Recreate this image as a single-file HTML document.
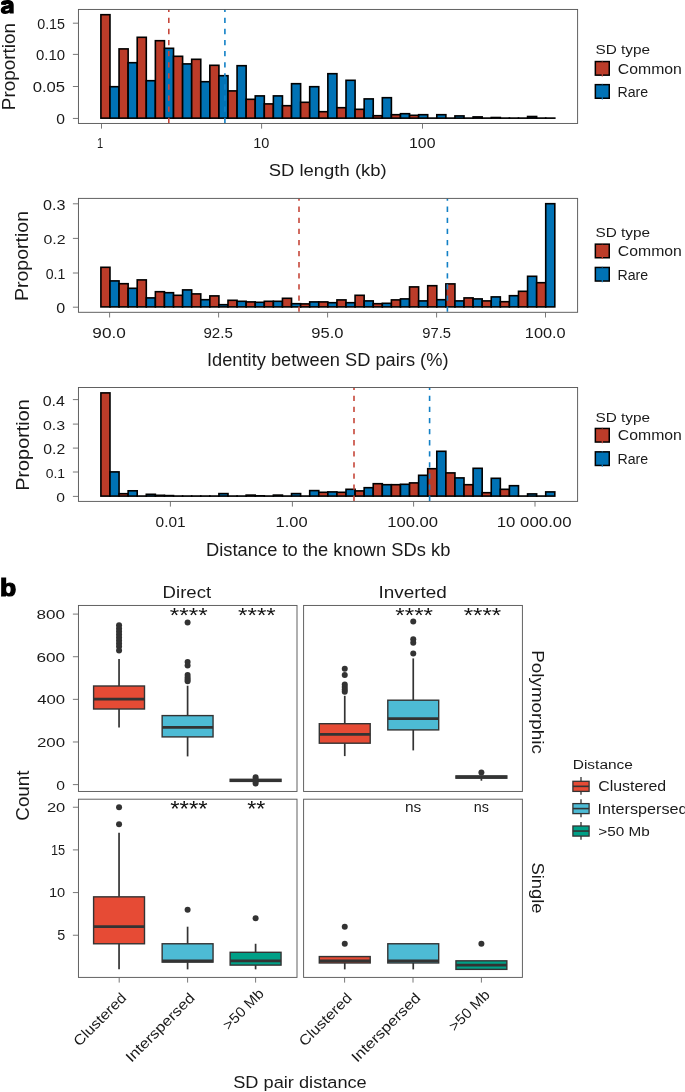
<!DOCTYPE html>
<html><head><meta charset="utf-8"><style>
html,body{margin:0;padding:0;background:#fff;width:685px;height:1092px;overflow:hidden}
svg{display:block;will-change:transform;font-family:"Liberation Sans",sans-serif;font-kerning:none}
text{font-kerning:none}
</style></head><body>
<svg width="685" height="1092" viewBox="0 0 685 1092">
<rect x="0" y="0" width="685" height="1092" fill="#fff"/>
<rect x="100.90" y="14.70" width="9.08" height="103.45" fill="#BC3C29" stroke="#000" stroke-width="1.6"/>
<rect x="109.98" y="86.70" width="9.08" height="31.45" fill="#0072B5" stroke="#000" stroke-width="1.6"/>
<rect x="119.06" y="48.90" width="9.08" height="69.25" fill="#BC3C29" stroke="#000" stroke-width="1.6"/>
<rect x="128.13" y="62.70" width="9.08" height="55.45" fill="#0072B5" stroke="#000" stroke-width="1.6"/>
<rect x="137.21" y="37.30" width="9.08" height="80.85" fill="#BC3C29" stroke="#000" stroke-width="1.6"/>
<rect x="146.29" y="80.70" width="9.08" height="37.45" fill="#0072B5" stroke="#000" stroke-width="1.6"/>
<rect x="155.37" y="40.70" width="9.08" height="77.45" fill="#BC3C29" stroke="#000" stroke-width="1.6"/>
<rect x="164.45" y="48.30" width="9.08" height="69.85" fill="#0072B5" stroke="#000" stroke-width="1.6"/>
<rect x="173.52" y="56.30" width="9.08" height="61.85" fill="#BC3C29" stroke="#000" stroke-width="1.6"/>
<rect x="182.60" y="63.90" width="9.08" height="54.25" fill="#0072B5" stroke="#000" stroke-width="1.6"/>
<rect x="191.68" y="59.30" width="9.08" height="58.85" fill="#BC3C29" stroke="#000" stroke-width="1.6"/>
<rect x="200.76" y="81.70" width="9.08" height="36.45" fill="#0072B5" stroke="#000" stroke-width="1.6"/>
<rect x="209.84" y="65.30" width="9.08" height="52.85" fill="#BC3C29" stroke="#000" stroke-width="1.6"/>
<rect x="218.91" y="75.70" width="9.08" height="42.45" fill="#0072B5" stroke="#000" stroke-width="1.6"/>
<rect x="227.99" y="90.90" width="9.08" height="27.25" fill="#BC3C29" stroke="#000" stroke-width="1.6"/>
<rect x="237.07" y="65.70" width="9.08" height="52.45" fill="#0072B5" stroke="#000" stroke-width="1.6"/>
<rect x="246.15" y="99.30" width="9.08" height="18.85" fill="#BC3C29" stroke="#000" stroke-width="1.6"/>
<rect x="255.23" y="95.90" width="9.08" height="22.25" fill="#0072B5" stroke="#000" stroke-width="1.6"/>
<rect x="264.30" y="103.90" width="9.08" height="14.25" fill="#BC3C29" stroke="#000" stroke-width="1.6"/>
<rect x="273.38" y="95.90" width="9.08" height="22.25" fill="#0072B5" stroke="#000" stroke-width="1.6"/>
<rect x="282.46" y="105.70" width="9.08" height="12.45" fill="#BC3C29" stroke="#000" stroke-width="1.6"/>
<rect x="291.54" y="83.70" width="9.08" height="34.45" fill="#0072B5" stroke="#000" stroke-width="1.6"/>
<rect x="300.62" y="102.30" width="9.08" height="15.85" fill="#BC3C29" stroke="#000" stroke-width="1.6"/>
<rect x="309.69" y="86.70" width="9.08" height="31.45" fill="#0072B5" stroke="#000" stroke-width="1.6"/>
<rect x="318.77" y="111.70" width="9.08" height="6.45" fill="#BC3C29" stroke="#000" stroke-width="1.6"/>
<rect x="327.85" y="73.70" width="9.08" height="44.45" fill="#0072B5" stroke="#000" stroke-width="1.6"/>
<rect x="336.93" y="107.70" width="9.08" height="10.45" fill="#BC3C29" stroke="#000" stroke-width="1.6"/>
<rect x="346.01" y="80.30" width="9.08" height="37.85" fill="#0072B5" stroke="#000" stroke-width="1.6"/>
<rect x="355.08" y="109.30" width="9.08" height="8.85" fill="#BC3C29" stroke="#000" stroke-width="1.6"/>
<rect x="364.16" y="98.90" width="9.08" height="19.25" fill="#0072B5" stroke="#000" stroke-width="1.6"/>
<rect x="373.24" y="115.70" width="9.08" height="2.45" fill="#BC3C29" stroke="#000" stroke-width="1.6"/>
<rect x="382.32" y="97.70" width="9.08" height="20.45" fill="#0072B5" stroke="#000" stroke-width="1.6"/>
<rect x="391.40" y="114.70" width="9.08" height="3.45" fill="#BC3C29" stroke="#000" stroke-width="1.6"/>
<rect x="400.47" y="113.70" width="9.08" height="4.45" fill="#0072B5" stroke="#000" stroke-width="1.6"/>
<rect x="409.55" y="115.30" width="9.08" height="2.85" fill="#BC3C29" stroke="#000" stroke-width="1.6"/>
<rect x="418.63" y="114.70" width="9.08" height="3.45" fill="#0072B5" stroke="#000" stroke-width="1.6"/>
<rect x="427.71" y="118.10" width="9.08" height="0.05" fill="#BC3C29" stroke="#000" stroke-width="1.6"/>
<rect x="436.79" y="114.70" width="9.08" height="3.45" fill="#0072B5" stroke="#000" stroke-width="1.6"/>
<rect x="445.86" y="118.10" width="9.08" height="0.05" fill="#BC3C29" stroke="#000" stroke-width="1.6"/>
<rect x="454.94" y="115.90" width="9.08" height="2.25" fill="#0072B5" stroke="#000" stroke-width="1.6"/>
<rect x="464.02" y="118.10" width="9.08" height="0.05" fill="#BC3C29" stroke="#000" stroke-width="1.6"/>
<rect x="473.10" y="116.90" width="9.08" height="1.25" fill="#0072B5" stroke="#000" stroke-width="1.6"/>
<rect x="482.18" y="118.10" width="9.08" height="0.05" fill="#BC3C29" stroke="#000" stroke-width="1.6"/>
<rect x="491.25" y="117.50" width="9.08" height="0.65" fill="#0072B5" stroke="#000" stroke-width="1.6"/>
<rect x="500.33" y="118.10" width="9.08" height="0.05" fill="#BC3C29" stroke="#000" stroke-width="1.6"/>
<rect x="509.41" y="118.10" width="9.08" height="0.05" fill="#0072B5" stroke="#000" stroke-width="1.6"/>
<rect x="518.49" y="118.10" width="9.08" height="0.05" fill="#BC3C29" stroke="#000" stroke-width="1.6"/>
<rect x="527.57" y="116.50" width="9.08" height="1.65" fill="#0072B5" stroke="#000" stroke-width="1.6"/>
<rect x="536.64" y="118.10" width="9.08" height="0.05" fill="#BC3C29" stroke="#000" stroke-width="1.6"/>
<rect x="545.72" y="118.10" width="9.08" height="0.05" fill="#0072B5" stroke="#000" stroke-width="1.6"/>
<line x1="168.80" y1="123.45" x2="168.80" y2="9.45" stroke="#C6473A" stroke-width="1.6" stroke-dasharray="5.3 5.8" stroke-dashoffset="-0.5"/>
<line x1="224.90" y1="123.45" x2="224.90" y2="9.45" stroke="#1280C6" stroke-width="1.6" stroke-dasharray="5.3 5.8" stroke-dashoffset="-0.5"/>
<rect x="78.45" y="9.45" width="499.15" height="114.00" fill="none" stroke="#5a5a5a" stroke-width="0.95"/>
<line x1="72.90" y1="23.20" x2="78.45" y2="23.20" stroke="#6a6a6a" stroke-width="0.9"/>
<text x="37.19" y="28.70" font-size="14.25" textLength="27.86" lengthAdjust="spacingAndGlyphs" fill="#1a1a1a">0.15</text>
<line x1="72.90" y1="54.40" x2="78.45" y2="54.40" stroke="#6a6a6a" stroke-width="0.9"/>
<text x="35.97" y="60.20" font-size="14.25" textLength="29.07" lengthAdjust="spacingAndGlyphs" fill="#1a1a1a">0.10</text>
<line x1="72.90" y1="86.50" x2="78.45" y2="86.50" stroke="#6a6a6a" stroke-width="0.9"/>
<text x="32.70" y="91.80" font-size="14.25" textLength="32.45" lengthAdjust="spacingAndGlyphs" fill="#1a1a1a">0.05</text>
<line x1="72.90" y1="118.45" x2="78.45" y2="118.45" stroke="#6a6a6a" stroke-width="0.9"/>
<text x="56.34" y="123.90" font-size="14.11" textLength="8.73" lengthAdjust="spacingAndGlyphs" fill="#1a1a1a">0</text>
<line x1="101.50" y1="123.45" x2="101.50" y2="128.65" stroke="#6a6a6a" stroke-width="0.9"/>
<text x="97.10" y="148.00" font-size="14.32" textLength="6.19" lengthAdjust="spacingAndGlyphs" fill="#1a1a1a">1</text>
<line x1="261.60" y1="123.45" x2="261.60" y2="128.65" stroke="#6a6a6a" stroke-width="0.9"/>
<text x="253.30" y="147.80" font-size="14.11" textLength="16.12" lengthAdjust="spacingAndGlyphs" fill="#1a1a1a">10</text>
<line x1="422.50" y1="123.45" x2="422.50" y2="128.65" stroke="#6a6a6a" stroke-width="0.9"/>
<text x="409.04" y="148.00" font-size="14.11" textLength="26.43" lengthAdjust="spacingAndGlyphs" fill="#1a1a1a">100</text>
<text x="268.71" y="176.00" font-size="16.22" textLength="117.98" lengthAdjust="spacingAndGlyphs" fill="#1a1a1a">SD length (kb)</text>
<text transform="translate(15.00,66.50) rotate(-90)" x="-0.16" y="0.00" font-size="17.95" textLength="87.07" lengthAdjust="spacingAndGlyphs" text-anchor="middle" fill="#1a1a1a">Proportion</text>
<text x="595.45" y="54.20" font-size="13.25" textLength="54.58" lengthAdjust="spacingAndGlyphs" fill="#1a1a1a">SD type</text>
<rect x="595.35" y="61.55" width="13.9" height="13.6" fill="#BC3C29" stroke="#000" stroke-width="1.5"/>
<line x1="602.30" y1="74.10" x2="602.30" y2="76.40" stroke="#C6473A" stroke-width="1.2"/>
<line x1="602.30" y1="60.70" x2="602.30" y2="62.00" stroke="#C6473A" stroke-width="1.2" stroke-opacity="0.5"/>
<rect x="595.35" y="84.65" width="13.9" height="13.6" fill="#0072B5" stroke="#000" stroke-width="1.5"/>
<line x1="602.30" y1="97.20" x2="602.30" y2="99.50" stroke="#1280C6" stroke-width="1.2"/>
<line x1="602.30" y1="83.80" x2="602.30" y2="85.10" stroke="#1280C6" stroke-width="1.2" stroke-opacity="0.5"/>
<text x="617.85" y="73.70" font-size="13.82" textLength="64.03" lengthAdjust="spacingAndGlyphs" fill="#1a1a1a">Common</text>
<text x="617.49" y="97.40" font-size="14.03" textLength="30.69" lengthAdjust="spacingAndGlyphs" fill="#1a1a1a">Rare</text>
<rect x="100.90" y="267.30" width="9.08" height="39.60" fill="#BC3C29" stroke="#000" stroke-width="1.6"/>
<rect x="109.98" y="280.90" width="9.08" height="26.00" fill="#0072B5" stroke="#000" stroke-width="1.6"/>
<rect x="119.06" y="283.70" width="9.08" height="23.20" fill="#BC3C29" stroke="#000" stroke-width="1.6"/>
<rect x="128.13" y="288.30" width="9.08" height="18.60" fill="#0072B5" stroke="#000" stroke-width="1.6"/>
<rect x="137.21" y="279.90" width="9.08" height="27.00" fill="#BC3C29" stroke="#000" stroke-width="1.6"/>
<rect x="146.29" y="297.90" width="9.08" height="9.00" fill="#0072B5" stroke="#000" stroke-width="1.6"/>
<rect x="155.37" y="291.70" width="9.08" height="15.20" fill="#BC3C29" stroke="#000" stroke-width="1.6"/>
<rect x="164.45" y="292.70" width="9.08" height="14.20" fill="#0072B5" stroke="#000" stroke-width="1.6"/>
<rect x="173.52" y="295.30" width="9.08" height="11.60" fill="#BC3C29" stroke="#000" stroke-width="1.6"/>
<rect x="182.60" y="289.90" width="9.08" height="17.00" fill="#0072B5" stroke="#000" stroke-width="1.6"/>
<rect x="191.68" y="293.90" width="9.08" height="13.00" fill="#BC3C29" stroke="#000" stroke-width="1.6"/>
<rect x="200.76" y="299.70" width="9.08" height="7.20" fill="#0072B5" stroke="#000" stroke-width="1.6"/>
<rect x="209.84" y="295.90" width="9.08" height="11.00" fill="#BC3C29" stroke="#000" stroke-width="1.6"/>
<rect x="218.91" y="304.70" width="9.08" height="2.20" fill="#0072B5" stroke="#000" stroke-width="1.6"/>
<rect x="227.99" y="300.30" width="9.08" height="6.60" fill="#BC3C29" stroke="#000" stroke-width="1.6"/>
<rect x="237.07" y="301.30" width="9.08" height="5.60" fill="#0072B5" stroke="#000" stroke-width="1.6"/>
<rect x="246.15" y="301.90" width="9.08" height="5.00" fill="#BC3C29" stroke="#000" stroke-width="1.6"/>
<rect x="255.23" y="302.30" width="9.08" height="4.60" fill="#0072B5" stroke="#000" stroke-width="1.6"/>
<rect x="264.30" y="301.30" width="9.08" height="5.60" fill="#BC3C29" stroke="#000" stroke-width="1.6"/>
<rect x="273.38" y="301.30" width="9.08" height="5.60" fill="#0072B5" stroke="#000" stroke-width="1.6"/>
<rect x="282.46" y="298.30" width="9.08" height="8.60" fill="#BC3C29" stroke="#000" stroke-width="1.6"/>
<rect x="291.54" y="303.70" width="9.08" height="3.20" fill="#0072B5" stroke="#000" stroke-width="1.6"/>
<rect x="300.62" y="303.90" width="9.08" height="3.00" fill="#BC3C29" stroke="#000" stroke-width="1.6"/>
<rect x="309.69" y="301.90" width="9.08" height="5.00" fill="#0072B5" stroke="#000" stroke-width="1.6"/>
<rect x="318.77" y="301.90" width="9.08" height="5.00" fill="#BC3C29" stroke="#000" stroke-width="1.6"/>
<rect x="327.85" y="302.70" width="9.08" height="4.20" fill="#0072B5" stroke="#000" stroke-width="1.6"/>
<rect x="336.93" y="299.90" width="9.08" height="7.00" fill="#BC3C29" stroke="#000" stroke-width="1.6"/>
<rect x="346.01" y="302.70" width="9.08" height="4.20" fill="#0072B5" stroke="#000" stroke-width="1.6"/>
<rect x="355.08" y="295.30" width="9.08" height="11.60" fill="#BC3C29" stroke="#000" stroke-width="1.6"/>
<rect x="364.16" y="300.90" width="9.08" height="6.00" fill="#0072B5" stroke="#000" stroke-width="1.6"/>
<rect x="373.24" y="303.70" width="9.08" height="3.20" fill="#BC3C29" stroke="#000" stroke-width="1.6"/>
<rect x="382.32" y="303.30" width="9.08" height="3.60" fill="#0072B5" stroke="#000" stroke-width="1.6"/>
<rect x="391.40" y="299.90" width="9.08" height="7.00" fill="#BC3C29" stroke="#000" stroke-width="1.6"/>
<rect x="400.47" y="298.90" width="9.08" height="8.00" fill="#0072B5" stroke="#000" stroke-width="1.6"/>
<rect x="409.55" y="286.90" width="9.08" height="20.00" fill="#BC3C29" stroke="#000" stroke-width="1.6"/>
<rect x="418.63" y="300.90" width="9.08" height="6.00" fill="#0072B5" stroke="#000" stroke-width="1.6"/>
<rect x="427.71" y="285.70" width="9.08" height="21.20" fill="#BC3C29" stroke="#000" stroke-width="1.6"/>
<rect x="436.79" y="299.70" width="9.08" height="7.20" fill="#0072B5" stroke="#000" stroke-width="1.6"/>
<rect x="445.86" y="283.90" width="9.08" height="23.00" fill="#BC3C29" stroke="#000" stroke-width="1.6"/>
<rect x="454.94" y="300.90" width="9.08" height="6.00" fill="#0072B5" stroke="#000" stroke-width="1.6"/>
<rect x="464.02" y="297.90" width="9.08" height="9.00" fill="#BC3C29" stroke="#000" stroke-width="1.6"/>
<rect x="473.10" y="298.90" width="9.08" height="8.00" fill="#0072B5" stroke="#000" stroke-width="1.6"/>
<rect x="482.18" y="300.90" width="9.08" height="6.00" fill="#BC3C29" stroke="#000" stroke-width="1.6"/>
<rect x="491.25" y="296.90" width="9.08" height="10.00" fill="#0072B5" stroke="#000" stroke-width="1.6"/>
<rect x="500.33" y="301.70" width="9.08" height="5.20" fill="#BC3C29" stroke="#000" stroke-width="1.6"/>
<rect x="509.41" y="295.70" width="9.08" height="11.20" fill="#0072B5" stroke="#000" stroke-width="1.6"/>
<rect x="518.49" y="291.30" width="9.08" height="15.60" fill="#BC3C29" stroke="#000" stroke-width="1.6"/>
<rect x="527.57" y="276.30" width="9.08" height="30.60" fill="#0072B5" stroke="#000" stroke-width="1.6"/>
<rect x="536.64" y="282.70" width="9.08" height="24.20" fill="#BC3C29" stroke="#000" stroke-width="1.6"/>
<rect x="545.72" y="203.70" width="9.08" height="103.20" fill="#0072B5" stroke="#000" stroke-width="1.6"/>
<line x1="299.00" y1="312.30" x2="299.00" y2="198.40" stroke="#C6473A" stroke-width="1.6" stroke-dasharray="5.3 5.8" stroke-dashoffset="-0.5"/>
<line x1="447.40" y1="312.30" x2="447.40" y2="198.40" stroke="#1280C6" stroke-width="1.6" stroke-dasharray="5.3 5.8" stroke-dashoffset="-0.5"/>
<rect x="78.45" y="198.40" width="499.15" height="113.90" fill="none" stroke="#5a5a5a" stroke-width="0.95"/>
<line x1="72.90" y1="203.80" x2="78.45" y2="203.80" stroke="#6a6a6a" stroke-width="0.9"/>
<text x="43.12" y="210.00" font-size="14.25" textLength="22.44" lengthAdjust="spacingAndGlyphs" fill="#1a1a1a">0.3</text>
<line x1="72.90" y1="238.40" x2="78.45" y2="238.40" stroke="#6a6a6a" stroke-width="0.9"/>
<text x="43.53" y="244.00" font-size="13.68" textLength="22.12" lengthAdjust="spacingAndGlyphs" fill="#1a1a1a">0.2</text>
<line x1="72.90" y1="273.00" x2="78.45" y2="273.00" stroke="#6a6a6a" stroke-width="0.9"/>
<text x="45.70" y="278.90" font-size="14.25" textLength="19.64" lengthAdjust="spacingAndGlyphs" fill="#1a1a1a">0.1</text>
<line x1="72.90" y1="307.20" x2="78.45" y2="307.20" stroke="#6a6a6a" stroke-width="0.9"/>
<text x="56.32" y="312.70" font-size="14.25" textLength="8.96" lengthAdjust="spacingAndGlyphs" fill="#1a1a1a">0</text>
<line x1="109.60" y1="312.30" x2="109.60" y2="317.50" stroke="#6a6a6a" stroke-width="0.9"/>
<text x="92.34" y="337.50" font-size="14.11" textLength="33.48" lengthAdjust="spacingAndGlyphs" fill="#1a1a1a">90.0</text>
<line x1="218.60" y1="312.30" x2="218.60" y2="317.50" stroke="#6a6a6a" stroke-width="0.9"/>
<text x="203.44" y="337.50" font-size="14.11" textLength="29.34" lengthAdjust="spacingAndGlyphs" fill="#1a1a1a">92.5</text>
<line x1="327.60" y1="312.30" x2="327.60" y2="317.50" stroke="#6a6a6a" stroke-width="0.9"/>
<text x="311.27" y="337.50" font-size="14.11" textLength="32.22" lengthAdjust="spacingAndGlyphs" fill="#1a1a1a">95.0</text>
<line x1="436.60" y1="312.30" x2="436.60" y2="317.50" stroke="#6a6a6a" stroke-width="0.9"/>
<text x="422.26" y="337.50" font-size="14.11" textLength="28.71" lengthAdjust="spacingAndGlyphs" fill="#1a1a1a">97.5</text>
<line x1="545.50" y1="312.30" x2="545.50" y2="317.50" stroke="#6a6a6a" stroke-width="0.9"/>
<text x="524.81" y="337.50" font-size="14.11" textLength="40.88" lengthAdjust="spacingAndGlyphs" fill="#1a1a1a">100.0</text>
<text x="206.97" y="366.00" font-size="18.56" textLength="241.52" lengthAdjust="spacingAndGlyphs" fill="#1a1a1a">Identity between SD pairs (%)</text>
<text transform="translate(28.40,255.85) rotate(-90)" x="-0.17" y="0.00" font-size="18.82" textLength="90.07" lengthAdjust="spacingAndGlyphs" text-anchor="middle" fill="#1a1a1a">Proportion</text>
<text x="595.45" y="237.30" font-size="13.39" textLength="54.58" lengthAdjust="spacingAndGlyphs" fill="#1a1a1a">SD type</text>
<rect x="595.35" y="244.15" width="13.9" height="13.6" fill="#BC3C29" stroke="#000" stroke-width="1.5"/>
<line x1="602.30" y1="256.70" x2="602.30" y2="259.00" stroke="#C6473A" stroke-width="1.2"/>
<line x1="602.30" y1="243.30" x2="602.30" y2="244.60" stroke="#C6473A" stroke-width="1.2" stroke-opacity="0.5"/>
<rect x="595.35" y="267.45" width="13.9" height="13.6" fill="#0072B5" stroke="#000" stroke-width="1.5"/>
<line x1="602.30" y1="280.00" x2="602.30" y2="282.30" stroke="#1280C6" stroke-width="1.2"/>
<line x1="602.30" y1="266.60" x2="602.30" y2="267.90" stroke="#1280C6" stroke-width="1.2" stroke-opacity="0.5"/>
<text x="617.85" y="256.30" font-size="13.82" textLength="64.03" lengthAdjust="spacingAndGlyphs" fill="#1a1a1a">Common</text>
<text x="617.49" y="280.20" font-size="14.03" textLength="30.69" lengthAdjust="spacingAndGlyphs" fill="#1a1a1a">Rare</text>
<rect x="100.90" y="392.90" width="9.08" height="103.20" fill="#BC3C29" stroke="#000" stroke-width="1.6"/>
<rect x="109.98" y="471.90" width="9.08" height="24.20" fill="#0072B5" stroke="#000" stroke-width="1.6"/>
<rect x="119.06" y="493.70" width="9.08" height="2.40" fill="#BC3C29" stroke="#000" stroke-width="1.6"/>
<rect x="128.13" y="490.80" width="9.08" height="5.30" fill="#0072B5" stroke="#000" stroke-width="1.6"/>
<rect x="137.21" y="496.05" width="9.08" height="0.05" fill="#BC3C29" stroke="#000" stroke-width="1.6"/>
<rect x="146.29" y="494.30" width="9.08" height="1.80" fill="#0072B5" stroke="#000" stroke-width="1.6"/>
<rect x="155.37" y="495.30" width="9.08" height="0.80" fill="#BC3C29" stroke="#000" stroke-width="1.6"/>
<rect x="164.45" y="495.60" width="9.08" height="0.50" fill="#0072B5" stroke="#000" stroke-width="1.6"/>
<rect x="173.52" y="496.05" width="9.08" height="0.05" fill="#BC3C29" stroke="#000" stroke-width="1.6"/>
<rect x="182.60" y="496.05" width="9.08" height="0.05" fill="#0072B5" stroke="#000" stroke-width="1.6"/>
<rect x="191.68" y="496.05" width="9.08" height="0.05" fill="#BC3C29" stroke="#000" stroke-width="1.6"/>
<rect x="200.76" y="496.05" width="9.08" height="0.05" fill="#0072B5" stroke="#000" stroke-width="1.6"/>
<rect x="209.84" y="496.05" width="9.08" height="0.05" fill="#BC3C29" stroke="#000" stroke-width="1.6"/>
<rect x="218.91" y="493.60" width="9.08" height="2.50" fill="#0072B5" stroke="#000" stroke-width="1.6"/>
<rect x="227.99" y="496.05" width="9.08" height="0.05" fill="#BC3C29" stroke="#000" stroke-width="1.6"/>
<rect x="237.07" y="496.05" width="9.08" height="0.05" fill="#0072B5" stroke="#000" stroke-width="1.6"/>
<rect x="246.15" y="495.10" width="9.08" height="1.00" fill="#BC3C29" stroke="#000" stroke-width="1.6"/>
<rect x="255.23" y="495.80" width="9.08" height="0.30" fill="#0072B5" stroke="#000" stroke-width="1.6"/>
<rect x="264.30" y="496.05" width="9.08" height="0.05" fill="#BC3C29" stroke="#000" stroke-width="1.6"/>
<rect x="273.38" y="495.10" width="9.08" height="1.00" fill="#0072B5" stroke="#000" stroke-width="1.6"/>
<rect x="282.46" y="496.05" width="9.08" height="0.05" fill="#BC3C29" stroke="#000" stroke-width="1.6"/>
<rect x="291.54" y="493.60" width="9.08" height="2.50" fill="#0072B5" stroke="#000" stroke-width="1.6"/>
<rect x="300.62" y="496.05" width="9.08" height="0.05" fill="#BC3C29" stroke="#000" stroke-width="1.6"/>
<rect x="309.69" y="490.60" width="9.08" height="5.50" fill="#0072B5" stroke="#000" stroke-width="1.6"/>
<rect x="318.77" y="492.30" width="9.08" height="3.80" fill="#BC3C29" stroke="#000" stroke-width="1.6"/>
<rect x="327.85" y="491.90" width="9.08" height="4.20" fill="#0072B5" stroke="#000" stroke-width="1.6"/>
<rect x="336.93" y="492.30" width="9.08" height="3.80" fill="#BC3C29" stroke="#000" stroke-width="1.6"/>
<rect x="346.01" y="489.30" width="9.08" height="6.80" fill="#0072B5" stroke="#000" stroke-width="1.6"/>
<rect x="355.08" y="490.90" width="9.08" height="5.20" fill="#BC3C29" stroke="#000" stroke-width="1.6"/>
<rect x="364.16" y="487.70" width="9.08" height="8.40" fill="#0072B5" stroke="#000" stroke-width="1.6"/>
<rect x="373.24" y="483.70" width="9.08" height="12.40" fill="#BC3C29" stroke="#000" stroke-width="1.6"/>
<rect x="382.32" y="484.70" width="9.08" height="11.40" fill="#0072B5" stroke="#000" stroke-width="1.6"/>
<rect x="391.40" y="484.70" width="9.08" height="11.40" fill="#BC3C29" stroke="#000" stroke-width="1.6"/>
<rect x="400.47" y="484.30" width="9.08" height="11.80" fill="#0072B5" stroke="#000" stroke-width="1.6"/>
<rect x="409.55" y="482.90" width="9.08" height="13.20" fill="#BC3C29" stroke="#000" stroke-width="1.6"/>
<rect x="418.63" y="475.30" width="9.08" height="20.80" fill="#0072B5" stroke="#000" stroke-width="1.6"/>
<rect x="427.71" y="468.70" width="9.08" height="27.40" fill="#BC3C29" stroke="#000" stroke-width="1.6"/>
<rect x="436.79" y="451.30" width="9.08" height="44.80" fill="#0072B5" stroke="#000" stroke-width="1.6"/>
<rect x="445.86" y="472.90" width="9.08" height="23.20" fill="#BC3C29" stroke="#000" stroke-width="1.6"/>
<rect x="454.94" y="477.90" width="9.08" height="18.20" fill="#0072B5" stroke="#000" stroke-width="1.6"/>
<rect x="464.02" y="484.70" width="9.08" height="11.40" fill="#BC3C29" stroke="#000" stroke-width="1.6"/>
<rect x="473.10" y="468.30" width="9.08" height="27.80" fill="#0072B5" stroke="#000" stroke-width="1.6"/>
<rect x="482.18" y="492.70" width="9.08" height="3.40" fill="#BC3C29" stroke="#000" stroke-width="1.6"/>
<rect x="491.25" y="478.30" width="9.08" height="17.80" fill="#0072B5" stroke="#000" stroke-width="1.6"/>
<rect x="500.33" y="489.30" width="9.08" height="6.80" fill="#BC3C29" stroke="#000" stroke-width="1.6"/>
<rect x="509.41" y="485.70" width="9.08" height="10.40" fill="#0072B5" stroke="#000" stroke-width="1.6"/>
<rect x="518.49" y="496.05" width="9.08" height="0.05" fill="#BC3C29" stroke="#000" stroke-width="1.6"/>
<rect x="527.57" y="493.90" width="9.08" height="2.20" fill="#0072B5" stroke="#000" stroke-width="1.6"/>
<rect x="536.64" y="496.05" width="9.08" height="0.05" fill="#BC3C29" stroke="#000" stroke-width="1.6"/>
<rect x="545.72" y="491.90" width="9.08" height="4.20" fill="#0072B5" stroke="#000" stroke-width="1.6"/>
<line x1="354.00" y1="501.40" x2="354.00" y2="387.50" stroke="#C6473A" stroke-width="1.6" stroke-dasharray="5.3 5.8" stroke-dashoffset="-0.5"/>
<line x1="429.60" y1="501.40" x2="429.60" y2="387.50" stroke="#1280C6" stroke-width="1.6" stroke-dasharray="5.3 5.8" stroke-dashoffset="-0.5"/>
<rect x="78.45" y="387.50" width="499.15" height="113.90" fill="none" stroke="#5a5a5a" stroke-width="0.95"/>
<line x1="72.90" y1="399.60" x2="78.45" y2="399.60" stroke="#6a6a6a" stroke-width="0.9"/>
<text x="42.73" y="405.70" font-size="13.82" textLength="22.19" lengthAdjust="spacingAndGlyphs" fill="#1a1a1a">0.4</text>
<line x1="72.90" y1="424.10" x2="78.45" y2="424.10" stroke="#6a6a6a" stroke-width="0.9"/>
<text x="42.93" y="429.70" font-size="13.68" textLength="22.23" lengthAdjust="spacingAndGlyphs" fill="#1a1a1a">0.3</text>
<line x1="72.90" y1="448.10" x2="78.45" y2="448.10" stroke="#6a6a6a" stroke-width="0.9"/>
<text x="43.33" y="453.60" font-size="14.11" textLength="21.91" lengthAdjust="spacingAndGlyphs" fill="#1a1a1a">0.2</text>
<line x1="72.90" y1="472.00" x2="78.45" y2="472.00" stroke="#6a6a6a" stroke-width="0.9"/>
<text x="45.70" y="478.10" font-size="13.68" textLength="19.43" lengthAdjust="spacingAndGlyphs" fill="#1a1a1a">0.1</text>
<line x1="72.90" y1="496.40" x2="78.45" y2="496.40" stroke="#6a6a6a" stroke-width="0.9"/>
<text x="56.34" y="501.80" font-size="13.68" textLength="8.73" lengthAdjust="spacingAndGlyphs" fill="#1a1a1a">0</text>
<line x1="170.40" y1="501.40" x2="170.40" y2="506.60" stroke="#6a6a6a" stroke-width="0.9"/>
<text x="155.55" y="526.70" font-size="14.68" textLength="30.06" lengthAdjust="spacingAndGlyphs" fill="#1a1a1a">0.01</text>
<line x1="292.40" y1="501.40" x2="292.40" y2="506.60" stroke="#6a6a6a" stroke-width="0.9"/>
<text x="275.60" y="526.70" font-size="14.68" textLength="31.99" lengthAdjust="spacingAndGlyphs" fill="#1a1a1a">1.00</text>
<line x1="413.60" y1="501.40" x2="413.60" y2="506.60" stroke="#6a6a6a" stroke-width="0.9"/>
<text x="387.28" y="526.70" font-size="14.68" textLength="50.81" lengthAdjust="spacingAndGlyphs" fill="#1a1a1a">100.00</text>
<line x1="535.00" y1="501.40" x2="535.00" y2="506.60" stroke="#6a6a6a" stroke-width="0.9"/>
<text x="496.77" y="526.70" font-size="14.68" textLength="74.74" lengthAdjust="spacingAndGlyphs" fill="#1a1a1a">10 000.00</text>
<text x="206.05" y="555.80" font-size="18.56" textLength="244.37" lengthAdjust="spacingAndGlyphs" fill="#1a1a1a">Distance to the known SDs kb</text>
<text transform="translate(28.50,444.85) rotate(-90)" x="-0.17" y="0.00" font-size="18.82" textLength="91.52" lengthAdjust="spacingAndGlyphs" text-anchor="middle" fill="#1a1a1a">Proportion</text>
<text x="595.45" y="421.80" font-size="13.25" textLength="54.58" lengthAdjust="spacingAndGlyphs" fill="#1a1a1a">SD type</text>
<rect x="595.35" y="428.45" width="13.9" height="13.6" fill="#BC3C29" stroke="#000" stroke-width="1.5"/>
<line x1="602.30" y1="441.00" x2="602.30" y2="443.30" stroke="#C6473A" stroke-width="1.2"/>
<line x1="602.30" y1="427.60" x2="602.30" y2="428.90" stroke="#C6473A" stroke-width="1.2" stroke-opacity="0.5"/>
<rect x="595.35" y="451.85" width="13.9" height="13.6" fill="#0072B5" stroke="#000" stroke-width="1.5"/>
<line x1="602.30" y1="464.40" x2="602.30" y2="466.70" stroke="#1280C6" stroke-width="1.2"/>
<line x1="602.30" y1="451.00" x2="602.30" y2="452.30" stroke="#1280C6" stroke-width="1.2" stroke-opacity="0.5"/>
<text x="617.85" y="439.90" font-size="13.82" textLength="64.03" lengthAdjust="spacingAndGlyphs" fill="#1a1a1a">Common</text>
<text x="617.49" y="463.60" font-size="14.03" textLength="30.69" lengthAdjust="spacingAndGlyphs" fill="#1a1a1a">Rare</text>
<path fill="#000" fill-rule="evenodd" d="M1.0,2.6 C2.4,0.8 4.6,0.1 7.2,0.1 C11.6,0.1 13.7,1.9 13.7,5.2 L13.7,13.6 L9.7,13.6 L9.6,12.5 C8.7,13.4 7.1,13.9 5.2,13.9 C2.3,13.9 0.8,12.5 0.8,10.4 C0.8,7.2 3.2,5.9 6.4,5.4 L8.9,5.0 C8.8,4.4 8.3,4.1 7.4,4.1 C6.4,4.1 5.8,4.4 5.6,4.9 L1.2,4.8 Z M9.3,8.3 C8.6,8.7 7.6,8.8 6.6,8.9 C5.6,9.0 5.2,9.4 5.2,9.9 C5.2,10.5 5.7,10.8 6.5,10.8 C8.2,10.8 9.3,10.0 9.3,8.8 Z"/>
<text x="0.10" y="595.50" font-size="23.53" textLength="16.24" lengthAdjust="spacingAndGlyphs" font-weight="bold" fill="#000" stroke="#000" stroke-width="1.2">b</text>
<line x1="119.05" y1="686.00" x2="119.05" y2="659.00" stroke="#333333" stroke-width="1.7"/>
<line x1="119.05" y1="709.00" x2="119.05" y2="727.60" stroke="#333333" stroke-width="1.7"/>
<rect x="93.60" y="686.00" width="50.90" height="23.00" fill="#E64B35" stroke="#333333" stroke-width="1.4"/>
<line x1="93.60" y1="699.05" x2="144.50" y2="699.05" stroke="#333333" stroke-width="2.7"/>
<circle cx="119.05" cy="625.20" r="3.0" fill="#333333"/>
<circle cx="119.05" cy="628.50" r="3.0" fill="#333333"/>
<circle cx="119.05" cy="631.50" r="3.0" fill="#333333"/>
<circle cx="119.05" cy="634.50" r="3.0" fill="#333333"/>
<circle cx="119.05" cy="637.50" r="3.0" fill="#333333"/>
<circle cx="119.05" cy="640.50" r="3.0" fill="#333333"/>
<circle cx="119.05" cy="643.50" r="3.0" fill="#333333"/>
<circle cx="119.05" cy="646.50" r="3.0" fill="#333333"/>
<circle cx="119.05" cy="650.40" r="3.0" fill="#333333"/>
<line x1="187.60" y1="715.60" x2="187.60" y2="685.70" stroke="#333333" stroke-width="1.7"/>
<line x1="187.60" y1="736.90" x2="187.60" y2="756.40" stroke="#333333" stroke-width="1.7"/>
<rect x="162.15" y="715.60" width="50.90" height="21.30" fill="#4DBBD5" stroke="#333333" stroke-width="1.4"/>
<line x1="162.15" y1="727.40" x2="213.05" y2="727.40" stroke="#333333" stroke-width="2.7"/>
<circle cx="187.60" cy="622.50" r="3.0" fill="#333333"/>
<circle cx="187.60" cy="662.00" r="3.0" fill="#333333"/>
<circle cx="187.60" cy="665.50" r="3.0" fill="#333333"/>
<circle cx="187.60" cy="675.00" r="3.0" fill="#333333"/>
<circle cx="187.60" cy="677.50" r="3.0" fill="#333333"/>
<circle cx="187.60" cy="679.50" r="3.0" fill="#333333"/>
<circle cx="187.60" cy="681.30" r="3.0" fill="#333333"/>
<rect x="230.15" y="779.30" width="50.90" height="2.10" fill="#00A087" stroke="#333333" stroke-width="1.4"/>
<line x1="230.15" y1="780.30" x2="281.05" y2="780.30" stroke="#333333" stroke-width="2.7"/>
<circle cx="255.60" cy="777.20" r="3.0" fill="#333333"/>
<circle cx="255.60" cy="779.50" r="3.0" fill="#333333"/>
<circle cx="255.60" cy="781.50" r="3.0" fill="#333333"/>
<circle cx="255.60" cy="783.50" r="3.0" fill="#333333"/>
<line x1="344.75" y1="723.70" x2="344.75" y2="695.80" stroke="#333333" stroke-width="1.7"/>
<line x1="344.75" y1="743.20" x2="344.75" y2="756.10" stroke="#333333" stroke-width="1.7"/>
<rect x="319.30" y="723.70" width="50.90" height="19.50" fill="#E64B35" stroke="#333333" stroke-width="1.4"/>
<line x1="319.30" y1="734.30" x2="370.20" y2="734.30" stroke="#333333" stroke-width="2.7"/>
<circle cx="344.75" cy="668.70" r="3.0" fill="#333333"/>
<circle cx="344.75" cy="675.00" r="3.0" fill="#333333"/>
<circle cx="344.75" cy="684.50" r="3.0" fill="#333333"/>
<circle cx="344.75" cy="687.00" r="3.0" fill="#333333"/>
<circle cx="344.75" cy="689.50" r="3.0" fill="#333333"/>
<circle cx="344.75" cy="691.80" r="3.0" fill="#333333"/>
<line x1="413.25" y1="700.20" x2="413.25" y2="658.40" stroke="#333333" stroke-width="1.7"/>
<line x1="413.25" y1="729.90" x2="413.25" y2="750.40" stroke="#333333" stroke-width="1.7"/>
<rect x="387.80" y="700.20" width="50.90" height="29.70" fill="#4DBBD5" stroke="#333333" stroke-width="1.4"/>
<line x1="387.80" y1="718.70" x2="438.70" y2="718.70" stroke="#333333" stroke-width="2.7"/>
<circle cx="413.25" cy="621.60" r="3.0" fill="#333333"/>
<circle cx="413.25" cy="639.20" r="3.0" fill="#333333"/>
<circle cx="413.25" cy="642.70" r="3.0" fill="#333333"/>
<circle cx="413.25" cy="653.50" r="3.0" fill="#333333"/>
<line x1="481.40" y1="778.20" x2="481.40" y2="780.70" stroke="#333333" stroke-width="1.7"/>
<rect x="455.95" y="775.90" width="50.90" height="2.30" fill="#00A087" stroke="#333333" stroke-width="1.4"/>
<line x1="455.95" y1="777.00" x2="506.85" y2="777.00" stroke="#333333" stroke-width="2.7"/>
<circle cx="481.40" cy="772.50" r="3.0" fill="#333333"/>
<line x1="119.05" y1="896.84" x2="119.05" y2="832.84" stroke="#333333" stroke-width="1.7"/>
<line x1="119.05" y1="943.77" x2="119.05" y2="969.37" stroke="#333333" stroke-width="1.7"/>
<rect x="93.60" y="896.84" width="50.90" height="46.93" fill="#E64B35" stroke="#333333" stroke-width="1.4"/>
<line x1="93.60" y1="926.70" x2="144.50" y2="926.70" stroke="#333333" stroke-width="2.7"/>
<circle cx="119.05" cy="824.31" r="3.0" fill="#333333"/>
<circle cx="119.05" cy="807.24" r="3.0" fill="#333333"/>
<line x1="187.60" y1="943.77" x2="187.60" y2="926.70" stroke="#333333" stroke-width="1.7"/>
<line x1="187.60" y1="962.11" x2="187.60" y2="969.37" stroke="#333333" stroke-width="1.7"/>
<rect x="162.15" y="943.77" width="50.90" height="18.35" fill="#4DBBD5" stroke="#333333" stroke-width="1.4"/>
<line x1="162.15" y1="960.83" x2="213.05" y2="960.83" stroke="#333333" stroke-width="2.7"/>
<circle cx="187.60" cy="909.64" r="3.0" fill="#333333"/>
<line x1="255.60" y1="952.30" x2="255.60" y2="943.77" stroke="#333333" stroke-width="1.7"/>
<line x1="255.60" y1="965.10" x2="255.60" y2="969.37" stroke="#333333" stroke-width="1.7"/>
<rect x="230.15" y="952.30" width="50.90" height="12.80" fill="#00A087" stroke="#333333" stroke-width="1.4"/>
<line x1="230.15" y1="960.83" x2="281.05" y2="960.83" stroke="#333333" stroke-width="2.7"/>
<circle cx="255.60" cy="918.17" r="3.0" fill="#333333"/>
<line x1="344.75" y1="962.97" x2="344.75" y2="969.37" stroke="#333333" stroke-width="1.7"/>
<rect x="319.30" y="956.57" width="50.90" height="6.40" fill="#E64B35" stroke="#333333" stroke-width="1.4"/>
<line x1="319.30" y1="960.83" x2="370.20" y2="960.83" stroke="#333333" stroke-width="2.7"/>
<circle cx="344.75" cy="943.77" r="3.0" fill="#333333"/>
<circle cx="344.75" cy="926.70" r="3.0" fill="#333333"/>
<line x1="413.25" y1="962.97" x2="413.25" y2="969.37" stroke="#333333" stroke-width="1.7"/>
<rect x="387.80" y="943.77" width="50.90" height="19.20" fill="#4DBBD5" stroke="#333333" stroke-width="1.4"/>
<line x1="387.80" y1="960.83" x2="438.70" y2="960.83" stroke="#333333" stroke-width="2.7"/>
<rect x="455.95" y="960.83" width="50.90" height="8.53" fill="#00A087" stroke="#333333" stroke-width="1.4"/>
<line x1="455.95" y1="965.10" x2="506.85" y2="965.10" stroke="#333333" stroke-width="2.7"/>
<circle cx="481.40" cy="943.77" r="3.0" fill="#333333"/>
<rect x="78.45" y="605.45" width="218.55" height="186.00" fill="none" stroke="#5a5a5a" stroke-width="0.95"/>
<rect x="303.60" y="605.45" width="218.80" height="186.00" fill="none" stroke="#5a5a5a" stroke-width="0.95"/>
<rect x="78.45" y="799.20" width="218.55" height="178.20" fill="none" stroke="#5a5a5a" stroke-width="0.95"/>
<rect x="303.60" y="799.20" width="218.80" height="178.20" fill="none" stroke="#5a5a5a" stroke-width="0.95"/>
<line x1="72.90" y1="614.10" x2="78.45" y2="614.10" stroke="#6a6a6a" stroke-width="0.9"/>
<text x="36.61" y="619.00" font-size="13.53" textLength="28.51" lengthAdjust="spacingAndGlyphs" fill="#1a1a1a">800</text>
<line x1="72.90" y1="656.72" x2="78.45" y2="656.72" stroke="#6a6a6a" stroke-width="0.9"/>
<text x="36.48" y="661.62" font-size="13.53" textLength="28.64" lengthAdjust="spacingAndGlyphs" fill="#1a1a1a">600</text>
<line x1="72.90" y1="699.35" x2="78.45" y2="699.35" stroke="#6a6a6a" stroke-width="0.9"/>
<text x="37.17" y="704.25" font-size="13.53" textLength="27.94" lengthAdjust="spacingAndGlyphs" fill="#1a1a1a">400</text>
<line x1="72.90" y1="741.97" x2="78.45" y2="741.97" stroke="#6a6a6a" stroke-width="0.9"/>
<text x="36.90" y="746.87" font-size="13.53" textLength="28.21" lengthAdjust="spacingAndGlyphs" fill="#1a1a1a">200</text>
<line x1="72.90" y1="784.60" x2="78.45" y2="784.60" stroke="#6a6a6a" stroke-width="0.9"/>
<text x="56.34" y="789.50" font-size="13.53" textLength="8.73" lengthAdjust="spacingAndGlyphs" fill="#1a1a1a">0</text>
<line x1="72.90" y1="807.24" x2="78.45" y2="807.24" stroke="#6a6a6a" stroke-width="0.9"/>
<text x="46.92" y="812.14" font-size="13.53" textLength="18.38" lengthAdjust="spacingAndGlyphs" fill="#1a1a1a">20</text>
<line x1="72.90" y1="849.90" x2="78.45" y2="849.90" stroke="#6a6a6a" stroke-width="0.9"/>
<text x="50.98" y="854.80" font-size="13.74" textLength="14.21" lengthAdjust="spacingAndGlyphs" fill="#1a1a1a">15</text>
<line x1="72.90" y1="892.57" x2="78.45" y2="892.57" stroke="#6a6a6a" stroke-width="0.9"/>
<text x="48.93" y="897.47" font-size="13.53" textLength="16.29" lengthAdjust="spacingAndGlyphs" fill="#1a1a1a">10</text>
<line x1="72.90" y1="935.24" x2="78.45" y2="935.24" stroke="#6a6a6a" stroke-width="0.9"/>
<text x="57.28" y="940.13" font-size="13.74" textLength="7.98" lengthAdjust="spacingAndGlyphs" fill="#1a1a1a">5</text>
<line x1="119.20" y1="977.40" x2="119.20" y2="982.60" stroke="#6a6a6a" stroke-width="0.9"/>
<line x1="187.60" y1="977.40" x2="187.60" y2="982.60" stroke="#6a6a6a" stroke-width="0.9"/>
<line x1="255.60" y1="977.40" x2="255.60" y2="982.60" stroke="#6a6a6a" stroke-width="0.9"/>
<line x1="344.60" y1="977.40" x2="344.60" y2="982.60" stroke="#6a6a6a" stroke-width="0.9"/>
<line x1="413.00" y1="977.40" x2="413.00" y2="982.60" stroke="#6a6a6a" stroke-width="0.9"/>
<line x1="481.40" y1="977.40" x2="481.40" y2="982.60" stroke="#6a6a6a" stroke-width="0.9"/>
<text x="162.63" y="597.60" font-size="16.63" textLength="48.46" lengthAdjust="spacingAndGlyphs" fill="#1a1a1a">Direct</text>
<text x="378.61" y="598.00" font-size="16.63" textLength="68.26" lengthAdjust="spacingAndGlyphs" fill="#1a1a1a">Inverted</text>
<text x="169.81" y="622.16" font-size="20.79" textLength="37.87" lengthAdjust="spacingAndGlyphs" fill="#111">****</text>
<text x="238.11" y="622.16" font-size="20.79" textLength="37.57" lengthAdjust="spacingAndGlyphs" fill="#111">****</text>
<text x="395.31" y="622.16" font-size="20.79" textLength="37.77" lengthAdjust="spacingAndGlyphs" fill="#111">****</text>
<text x="463.71" y="622.16" font-size="20.79" textLength="37.57" lengthAdjust="spacingAndGlyphs" fill="#111">****</text>
<text x="170.21" y="816.35" font-size="21.36" textLength="37.46" lengthAdjust="spacingAndGlyphs" fill="#111">****</text>
<text x="247.33" y="816.35" font-size="21.36" textLength="18.04" lengthAdjust="spacingAndGlyphs" fill="#111">**</text>
<text x="405.03" y="811.60" font-size="14.59" textLength="16.28" lengthAdjust="spacingAndGlyphs" fill="#1a1a1a">ns</text>
<text x="473.80" y="811.60" font-size="14.59" textLength="15.17" lengthAdjust="spacingAndGlyphs" fill="#1a1a1a">ns</text>
<text transform="translate(531.90,702.60) rotate(90)" x="-0.52" y="0.00" font-size="17.20" textLength="103.54" lengthAdjust="spacingAndGlyphs" text-anchor="middle" fill="#1a1a1a">Polymorphic</text>
<text transform="translate(531.80,888.00) rotate(90)" x="-0.01" y="0.00" font-size="17.20" textLength="50.95" lengthAdjust="spacingAndGlyphs" text-anchor="middle" fill="#1a1a1a">Single</text>
<text transform="translate(28.90,795.20) rotate(-90)" x="-0.41" y="0.00" font-size="17.60" textLength="50.19" lengthAdjust="spacingAndGlyphs" text-anchor="middle" fill="#1a1a1a">Count</text>
<text transform="translate(127.33,998.77) rotate(-45)" x="0" y="0" font-size="14.4" textLength="68.13" lengthAdjust="spacingAndGlyphs" text-anchor="end" fill="#1a1a1a">Clustered</text>
<text transform="translate(195.64,998.76) rotate(-45)" x="0" y="0" font-size="14.4" textLength="90.86" lengthAdjust="spacingAndGlyphs" text-anchor="end" fill="#1a1a1a">Interspersed</text>
<text transform="translate(264.70,994.61) rotate(-45)" x="0" y="0" font-size="14.4" textLength="50.98" lengthAdjust="spacingAndGlyphs" text-anchor="end" fill="#1a1a1a">&gt;50 Mb</text>
<text transform="translate(352.83,998.77) rotate(-45)" x="0" y="0" font-size="14.4" textLength="68.13" lengthAdjust="spacingAndGlyphs" text-anchor="end" fill="#1a1a1a">Clustered</text>
<text transform="translate(421.39,998.76) rotate(-45)" x="0" y="0" font-size="14.4" textLength="90.86" lengthAdjust="spacingAndGlyphs" text-anchor="end" fill="#1a1a1a">Interspersed</text>
<text transform="translate(490.70,995.91) rotate(-45)" x="0" y="0" font-size="14.4" textLength="50.98" lengthAdjust="spacingAndGlyphs" text-anchor="end" fill="#1a1a1a">&gt;50 Mb</text>
<text x="233.22" y="1088.40" font-size="17.04" textLength="133.54" lengthAdjust="spacingAndGlyphs" fill="#1a1a1a">SD pair distance</text>
<text x="572.78" y="769.20" font-size="13.46" textLength="60.16" lengthAdjust="spacingAndGlyphs" fill="#1a1a1a">Distance</text>
<line x1="581.00" y1="777.00" x2="581.00" y2="794.70" stroke="#333333" stroke-width="1.3"/>
<rect x="572.9" y="781.30" width="16.2" height="10.10" fill="#E64B35" stroke="#333333" stroke-width="1.3"/>
<line x1="572.90" y1="786.35" x2="589.10" y2="786.35" stroke="#333333" stroke-width="1.6"/>
<line x1="581.00" y1="799.30" x2="581.00" y2="817.20" stroke="#333333" stroke-width="1.3"/>
<rect x="572.9" y="803.60" width="16.2" height="10.00" fill="#4DBBD5" stroke="#333333" stroke-width="1.3"/>
<line x1="572.90" y1="808.60" x2="589.10" y2="808.60" stroke="#333333" stroke-width="1.6"/>
<line x1="581.00" y1="822.00" x2="581.00" y2="839.80" stroke="#333333" stroke-width="1.3"/>
<rect x="572.9" y="826.00" width="16.2" height="10.10" fill="#00A087" stroke="#333333" stroke-width="1.3"/>
<line x1="572.90" y1="831.05" x2="589.10" y2="831.05" stroke="#333333" stroke-width="1.6"/>
<text x="598.24" y="791.00" font-size="14.01" textLength="67.93" lengthAdjust="spacingAndGlyphs" fill="#1a1a1a">Clustered</text>
<text x="597.56" y="813.90" font-size="13.73" textLength="89.94" lengthAdjust="spacingAndGlyphs" fill="#1a1a1a">Interspersed</text>
<text x="598.30" y="836.10" font-size="13.32" textLength="51.40" lengthAdjust="spacingAndGlyphs" fill="#1a1a1a">&gt;50 Mb</text>
</svg>
</body></html>
